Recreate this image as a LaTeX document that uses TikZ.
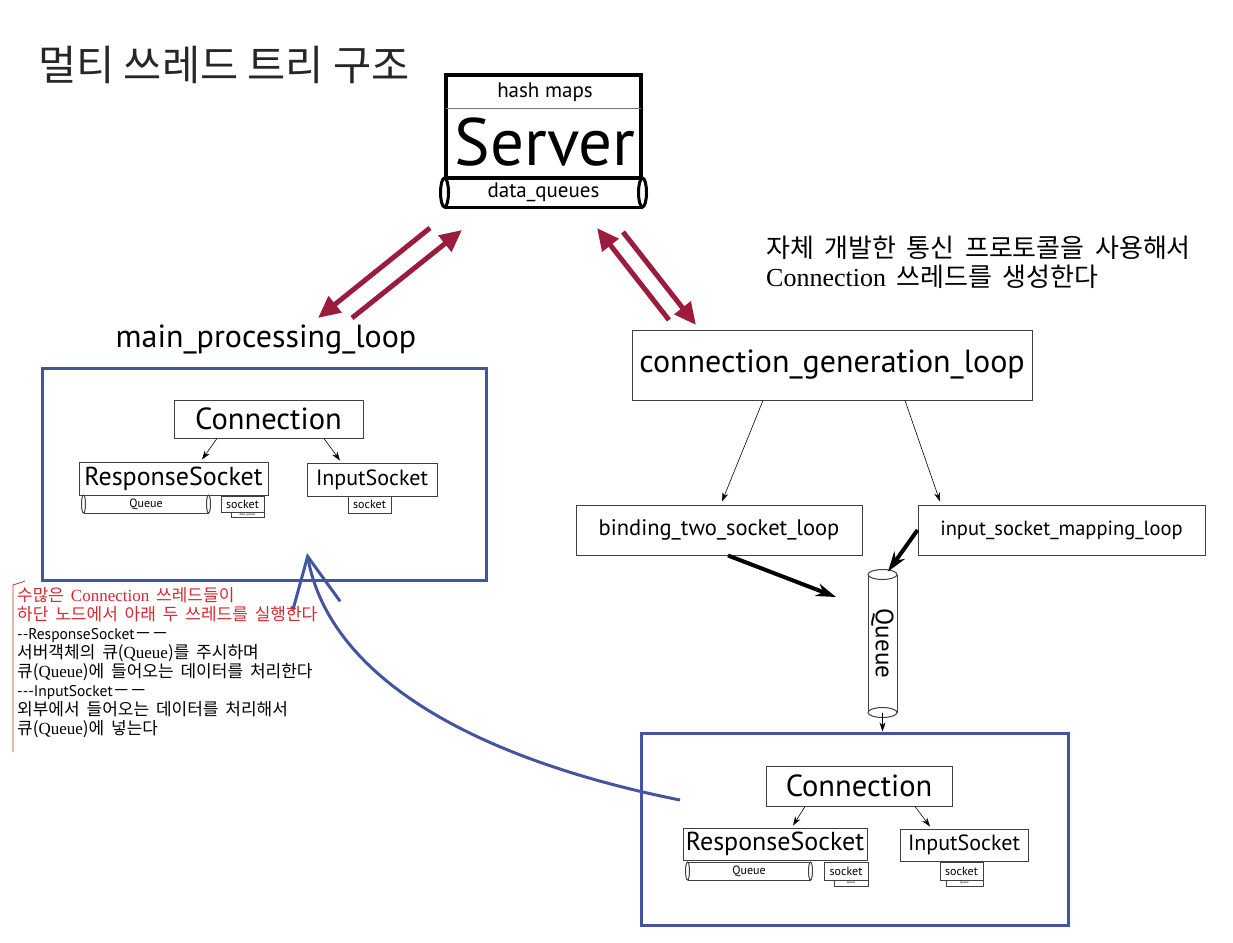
\documentclass[tikz,border=0pt]{standalone}
\usepackage{fontspec}
\setmainfont{PT Sans}
\newfontfamily\krtitle[Color=262626]{Noto Sans CJK KR}
\newfontfamily\kr[WordSpace=1.8]{Noto Sans CJK KR}
\newfontfamily\seriflat{Liberation Serif}
\usetikzlibrary{positioning,arrows.meta,calc}
\definecolor{framecol}{HTML}{4455A0}
\definecolor{linkred}{HTML}{9B1C3C}
\definecolor{notered}{HTML}{D7282F}
\newcommand{\fs}[2]{\fontsize{#1}{#2}\selectfont}
\tikzset{
  box/.style={draw=black!75, line width=1pt, inner sep=0pt, fill=white},
  pipe/.style={draw=black!75, line width=1pt, inner sep=0pt},
  pipeend/.style={draw=black!75, line width=1pt, fill=white},
  frame/.style={draw=framecol, line width=3pt, inner sep=0pt},
  link/.style={draw=linkred, line width=5pt, -{Triangle[length=22pt,width=20pt]}},
  sub/.style={-{Stealth[length=9pt,width=6pt]}, line width=0.6pt},
  feed/.style={-{Stealth[length=20pt,width=13pt]}, line width=4pt},
  back/.style={draw=framecol, line width=3pt, -{Straight Barb[length=50pt,width=48pt]}}
}

\begin{document}
\begin{tikzpicture}[x=1pt, y=-1pt]
  \useasboundingbox (0,0) rectangle (1233,942);

  % title
  \node[font=\krtitle\fs{41.5}{44}] (title) at (224,65) {멀티 쓰레드 트리 구조};

  % server
  \node[draw, line width=4pt, minimum width=195, minimum height=103, inner sep=0pt] (server) at (543.5,126.5) {};
  \draw[black!55, line width=1pt] (446,108) -- (641,108);
  \node[font=\fs{21}{24}] (hash) at (545,92) {hash maps};
  \node[font=\fs{67}{70}] (srv) at (545,142) {Server};
  \node[pipe, draw=black, line width=3pt, minimum width=195, minimum height=29, font=\fs{21}{22}] (dq) at (543.5,192.5) {data\_queues};
  \draw[pipeend, draw=black, line width=3pt] (dq.west) ellipse (4 and 14.5);
  \draw[pipeend, draw=black, line width=3pt] (dq.east) ellipse (4 and 14.5);

  % links to and from the server
  \coordinate (ml-a) at (430,228);
  \coordinate (ml-b) at (318,318);
  \coordinate (ml-c) at (352,318);
  \coordinate (ml-d) at (462,230);
  \coordinate (cg-a) at (669,320);
  \coordinate (cg-b) at (597,228);
  \coordinate (cg-c) at (623,232);
  \coordinate (cg-d) at (696,325);
  \draw[link] (ml-a) -- (ml-b);
  \draw[link] (ml-c) -- (ml-d);
  \draw[link] (cg-a) -- (cg-b);
  \draw[link] (cg-c) -- (cg-d);

  % note top right
  \node[anchor=west, align=left, inner sep=0pt, font=\kr\fs{26}{29}] (gennote) at (766,262)
    {자체 개발한 통신 프로토콜을 사용해서\\{\seriflat Connection} 쓰레드를 생성한다};

  % main processing loop
  \node[font=\fs{32}{34}] (mpl) at (266,340) {main\_processing\_loop};
  \node[frame, minimum width=444, minimum height=212] (mainframe) at (264,474) {};

  \node[box, minimum width=189, minimum height=38, font=\fs{30.5}{32}] (conn1) at (268.5,419) {Connection};
  \node[box, minimum width=189, minimum height=33, font=\fs{26}{28}] (resp1) at (173.5,478.5) {ResponseSocket};
  \node[box, minimum width=130, minimum height=33, font=\fs{22}{26}] (inp1) at (372,479.5) {InputSocket};
  \node[pipe, minimum width=124, minimum height=18, font=\fs{12}{14}] (queue1) at (146,504) {Queue};
  \draw[pipeend] (queue1.west) ellipse (2 and 9);
  \draw[pipeend] (queue1.east) ellipse (2 and 9);
  \node[box, minimum width=43, minimum height=16, font=\fs{12}{14}] (sock1) at (242.5,504) {socket};
  \node[box, minimum width=33, minimum height=5, font=\fs{3}{3}] (tiny1) at (247.5,514.5) {data\_queues};
  \node[box, minimum width=43, minimum height=17, font=\fs{12}{14}] (sock2) at (369.5,504.5) {socket};
  \draw[sub] ([xshift=-51.5pt]conn1.south) -- ([xshift=28.5pt,yshift=2pt]resp1.north);
  \draw[sub] ([xshift=55.5pt]conn1.south) -- ([xshift=-32pt,yshift=2pt]inp1.north);

  % generation side
  \node[box, minimum width=400, minimum height=70, font=\fs{32}{34}] (cgl) at (832,365) {connection\_generation\_loop};
  \node[box, minimum width=286, minimum height=50, font=\fs{22.5}{24}] (binding) at (719,530) {binding\_two\_socket\_loop};
  \node[box, minimum width=287, minimum height=50, font=\fs{20.5}{24}] (inmap) at (1061.5,530) {input\_socket\_mapping\_loop};
  \draw[sub] ([xshift=-69pt]cgl.south) -- ([xshift=3pt,yshift=3pt]binding.north);
  \draw[sub] ([xshift=73pt]cgl.south) -- ([xshift=-121.5pt,yshift=3pt]inmap.north);

  \node[pipe, minimum width=29, minimum height=137, font=\fs{25}{26}] (qv) at (882.5,643.5) {\rotatebox{-90}{Queue}};
  \draw[pipeend] (qv.north) ellipse (14.5 and 5);
  \draw[pipeend] (qv.south) ellipse (14.5 and 5);
  \coordinate (qin) at (836,597);
  \draw[feed] ([xshift=9pt]binding.south) -- (qin);
  \draw[feed] (inmap.west) -- ($(qv.north)+(5.5,-3)$);

  % lower connection
  \node[frame, minimum width=427, minimum height=192] (subframe) at (854.5,829) {};
  \draw[sub] (qv.south) -- (qv.south |- subframe.north);

  \node[box, minimum width=186, minimum height=40, font=\fs{30.5}{32}] (conn2) at (859,786) {Connection};
  \node[box, minimum width=184, minimum height=32, font=\fs{26}{28}] (resp2) at (775,844) {ResponseSocket};
  \node[box, minimum width=128, minimum height=32, font=\fs{22}{26}] (inp2) at (964,845) {InputSocket};
  \node[pipe, minimum width=122, minimum height=18, font=\fs{12}{14}] (queue2) at (749,871) {Queue};
  \draw[pipeend] (queue2.west) ellipse (2 and 9);
  \draw[pipeend] (queue2.east) ellipse (2 and 9);
  \node[box, minimum width=44, minimum height=18, font=\fs{12}{14}] (sock3) at (846,871) {socket};
  \node[box, minimum width=34, minimum height=6, font=\fs{3}{3}] (tiny3) at (851,883) {Queue};
  \node[box, minimum width=43, minimum height=18, font=\fs{12}{14}] (sock4) at (961.5,871) {socket};
  \node[box, minimum width=37, minimum height=6, font=\fs{3}{3}] (tiny4) at (964.5,883) {Queue};
  \draw[sub] ([xshift=-54pt]conn2.south) -- ([xshift=18pt,yshift=2pt]resp2.north);
  \draw[sub] ([xshift=56pt]conn2.south) -- ([xshift=-34pt,yshift=2pt]inp2.north);

  % the lower node feeds back into the main loop
  \coordinate (fb-start) at (680,800);
  \coordinate (fb-end) at (307,553);
  \draw[back] (fb-start) .. controls (480,760) and (330,680) .. (fb-end);

  % note on the left
  \draw[notered, line width=0.8pt] (25,581) -- (13,585) -- (13,752);
  \node[anchor=north west, align=left, inner sep=0pt, font=\kr\fs{17}{19}] (note) at (17,587)
    {\textcolor{notered}{수많은 {\seriflat Connection} 쓰레드들이}\\
     \textcolor{notered}{하단 노드에서 아래 두 쓰레드를 실행한다}\\
     {\rmfamily\fs{15.5}{19}-{}-ResponseSocket}－－\\
     서버객체의 큐({\seriflat Queue})를 주시하며\\
     큐({\seriflat Queue})에 들어오는 데이터를 처리한다\\
     {\rmfamily\fs{15.5}{19}-{}-{}-InputSocket}－－\\
     외부에서 들어오는 데이터를 처리해서\\
     큐({\seriflat Queue})에 넣는다};
\end{tikzpicture}
\end{document}
